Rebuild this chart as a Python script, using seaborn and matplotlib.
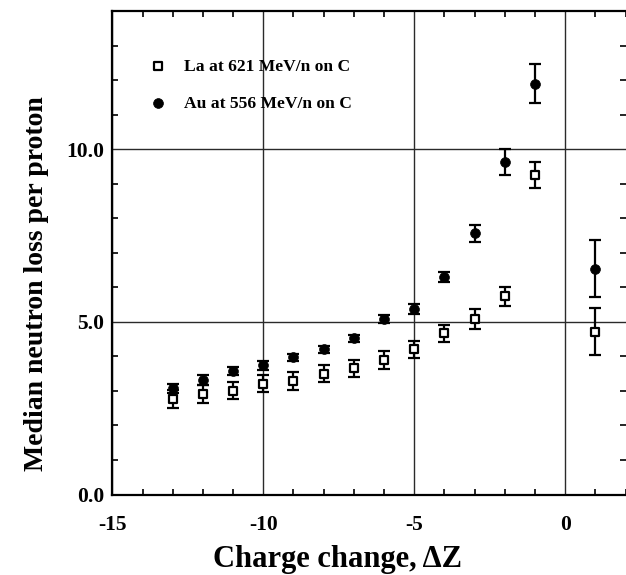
import matplotlib
matplotlib.use("Agg")
import matplotlib.pyplot as plt
import seaborn as sns
import pandas as pd
from matplotlib.ticker import MultipleLocator, FixedLocator

# ---- data ----
la_dz = [-13, -12, -11, -10, -9, -8, -7, -6, -5, -4, -3, -2, -1, 1]
la_val = [2.77, 2.91, 3.01, 3.21, 3.30, 3.50, 3.65, 3.90, 4.20, 4.67, 5.08, 5.74, 9.26, 4.72]
la_err = [0.26, 0.25, 0.25, 0.25, 0.26, 0.25, 0.24, 0.26, 0.26, 0.25, 0.28, 0.27, 0.37, 0.68]

au_dz = [-13, -12, -11, -10, -9, -8, -7, -6, -5, -4, -3, -2, -1, 1]
au_val = [3.07, 3.32, 3.57, 3.75, 3.98, 4.20, 4.53, 5.08, 5.37, 6.30, 7.56, 9.63, 11.90, 6.54]
au_err = [0.12, 0.14, 0.12, 0.13, 0.10, 0.10, 0.10, 0.12, 0.15, 0.15, 0.25, 0.39, 0.57, 0.82]

la_label = "La at 621 MeV/n on C"
au_label = "Au at 556 MeV/n on C"
x_label = "Charge change, \u0394Z"
y_label = "Median neutron loss per proton"
x_ticks = [-15, -10, -5, 0]
y_ticks = [0.0, 5.0, 10.0]

la_df = pd.DataFrame({"dz": la_dz, "val": la_val, "err": la_err})
au_df = pd.DataFrame({"dz": au_dz, "val": au_val, "err": au_err})

sns.set_style("ticks")
plt.rcParams["font.family"] = ["Liberation Serif", "DejaVu Serif"]
plt.rcParams["font.weight"] = "bold"
plt.rcParams["text.color"] = "black"
plt.rcParams["axes.labelcolor"] = "black"
plt.rcParams["xtick.color"] = "black"
plt.rcParams["ytick.color"] = "black"
plt.rcParams["xtick.labelcolor"] = "black"
plt.rcParams["ytick.labelcolor"] = "black"

fig = plt.figure(figsize=(6.26, 5.75), dpi=100)
ax = fig.add_axes([0.1794, 0.140, 0.8201, 0.8407])

# error bars
for df in (la_df, au_df):
    ax.errorbar(df["dz"], df["val"], yerr=df["err"], fmt="none",
                ecolor="black", elinewidth=1.6, capsize=4, capthick=1.6, zorder=3)

sns.scatterplot(data=la_df, x="dz", y="val", marker="s", s=34,
                facecolor="white", edgecolor="black", linewidth=1.6,
                label=la_label, ax=ax, zorder=4)
sns.scatterplot(data=au_df, x="dz", y="val", marker="o", s=50,
                facecolor="black", edgecolor="black", linewidth=0.5,
                label=au_label, ax=ax, zorder=4)

ax.set_xlim(-15, 2)
ax.set_ylim(0, 14)

ax.xaxis.set_major_locator(FixedLocator(x_ticks))
ax.yaxis.set_major_locator(FixedLocator(y_ticks))
ax.xaxis.set_minor_locator(MultipleLocator(1))
ax.yaxis.set_minor_locator(MultipleLocator(1))
ax.set_xticklabels([f"{t:d}" for t in x_ticks])
ax.set_yticklabels([f"{t:.1f}" for t in y_ticks])

ax.grid(True, which="major", color="#2a2a2a", linewidth=1.0, linestyle="-")
ax.set_axisbelow(True)

ax.tick_params(which="both", direction="in", top=True, right=True,
               width=1.2, colors="black", labelcolor="black")
ax.tick_params(which="major", length=0, labelsize=15.5)
ax.tick_params(axis="x", which="major", pad=15)
ax.tick_params(axis="y", which="major", pad=6)
ax.tick_params(which="minor", length=4)
for lab in ax.get_xticklabels() + ax.get_yticklabels():
    lab.set_fontweight("bold")
    lab.set_color("black")

for side in ("left", "bottom", "top"):
    ax.spines[side].set_linewidth(1.6)
    ax.spines[side].set_color("black")
ax.spines["right"].set_visible(False)

ax.set_xlabel(x_label, fontsize=22, fontweight="bold", color="black")
ax.set_ylabel(y_label, fontsize=20, fontweight="bold", color="black")
ax.xaxis.set_label_coords(0.438, -0.105)
ax.yaxis.set_label_coords(-0.123, 0.437)

leg = ax.legend(loc="upper left", bbox_to_anchor=(0.025, 0.935), frameon=False,
                fontsize=12.6, handletextpad=0.45, labelspacing=1.2,
                markerscale=1.0)
for t in leg.get_texts():
    t.set_fontweight("bold")
    t.set_color("black")

fig.savefig("out.png", dpi=100)
